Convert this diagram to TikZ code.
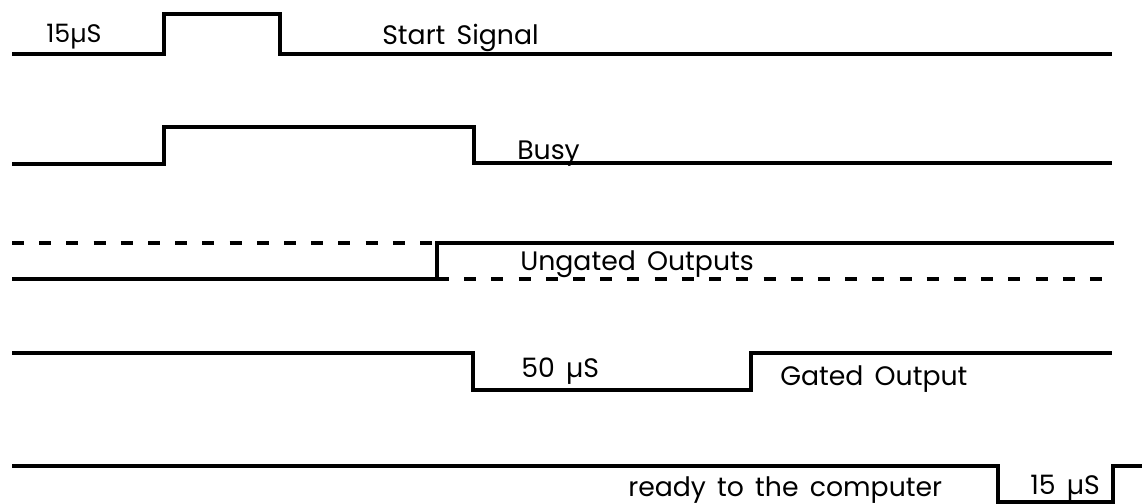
\documentclass[tikz,border=0pt]{standalone}
\usepackage{fontspec}
\setmainfont{Poppins}
\usepackage{tikz}
\newcommand\lblfont{\fontsize{19}{22}\selectfont\spaceskip=0.42em plus 0.1em\relax}
\tikzset{wave/.style={line width=2.2pt,line join=miter},
         dashwave/.style={line width=2.2pt,dash pattern=on 0.3cm off 0.38cm},
         lbl/.style={anchor=base west,inner sep=0pt,font=\lblfont},
         smalllbl/.style={anchor=base west,inner sep=0pt,font=\fontsize{18}{20}\selectfont}}

\begin{document}
\begin{tikzpicture}[x=0.025cm,y=-0.025cm]
    \useasboundingbox (0,0) rectangle (1142,504);
    % start signal
    \draw[wave] (12,54) -- (164,54) -- (164,14) -- (280,14) -- (280,54) -- (1112,54);
    \node[smalllbl] (start15) at (46,43) {15µS};
    \node[lbl] (start) at (382,45) {Start Signal};
    % busy
    \draw[wave] (12,164) -- (164,164) -- (164,127) -- (474,127) -- (474,163) -- (1112,163);
    \node[lbl] (busy) at (517,160) {Busy};
    % ungated outputs
    \draw[dashwave] (12,243) -- (437,243);
    \draw[wave] (12,279) -- (437,279) -- (437,243) -- (1114,243);
    \draw[dashwave] (437,279) -- (1116,279);
    \node[lbl] (ungated) at (520,270) {Ungated Outputs};
    % gated output
    \draw[wave] (12,353) -- (473,353) -- (473,390) -- (751,390) -- (751,353) -- (1112,353);
    \node[lbl] (gate50) at (521,377) {50 µS};
    \node[lbl] (gated) at (780,385) {Gated Output};
    % ready
    \draw[wave] (12,466) -- (998,466) -- (998,502) -- (1113,502) -- (1113,466) -- (1142,466);
    \node[lbl] (ready) at (628,496) {ready to the computer};
    \node[lbl] (ready15) at (1030,494) {15 µS};
\end{tikzpicture}
\end{document}
